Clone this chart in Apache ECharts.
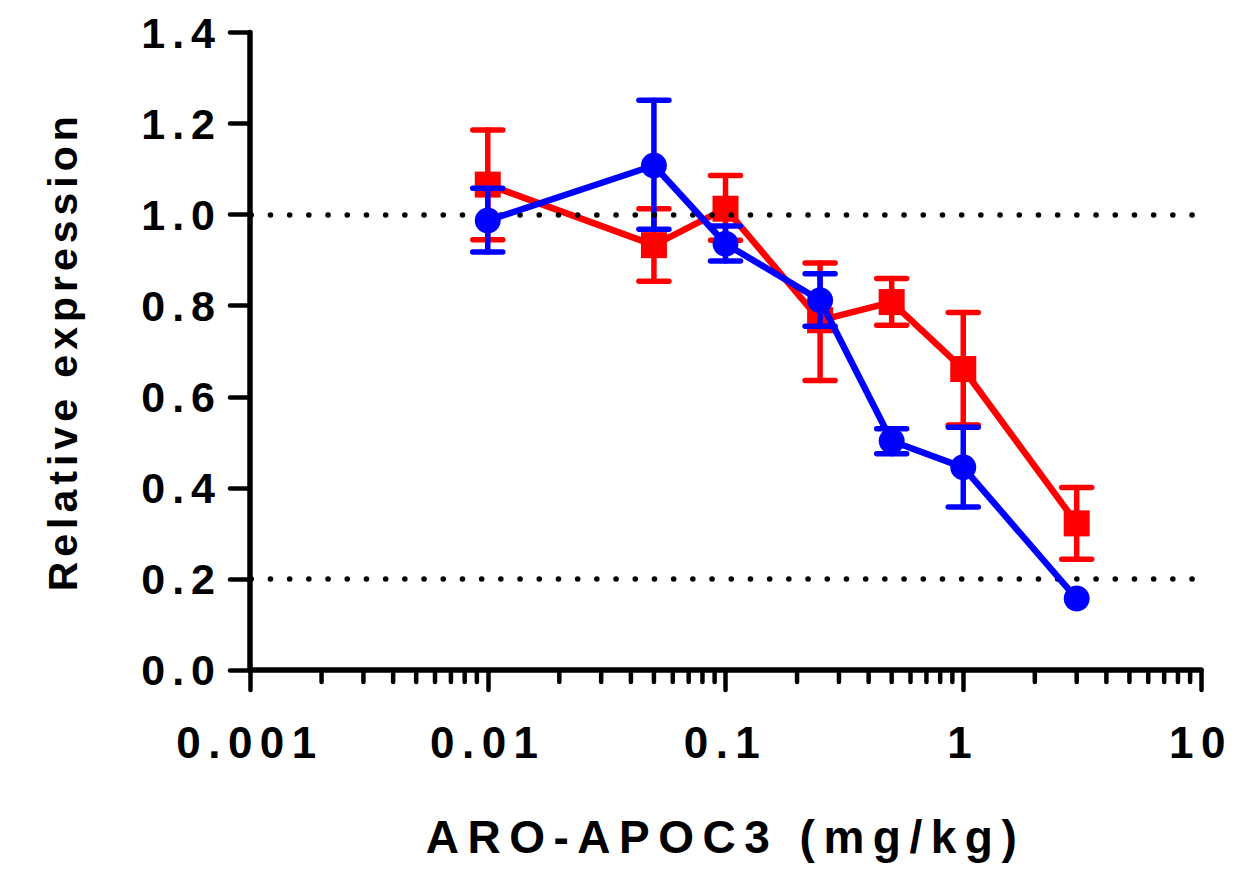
<!DOCTYPE html>
<html>
<head>
<meta charset="utf-8">
<script src="https://cdn.jsdelivr.net/npm/echarts@6/dist/echarts.min.js"></script>
<style>
  html, body { margin: 0; padding: 0; background: #fff; }
  #chart { width: 1239px; height: 869px; }
  /* wide tracking, as in the figure typography */
  #chart text { letter-spacing: 7px; }
  #chart text[style*="46px"] { letter-spacing: 8.5px; }
  #chart text[style*="41px"] { letter-spacing: 5px; }
  #chart text[style*="44px"] { letter-spacing: 7.5px; }
</style>
</head>
<body>
<div id="chart"></div>
<script>
// Dose levels (mg/kg)
const doses = [0.01, 0.05, 0.1, 0.25, 0.5, 1, 3];

// Red group: mean, lower and upper error limits
const redMean = [1.066, 0.933, 1.013, 0.768, 0.808, 0.661, 0.322];
const redLow  = [0.945, 0.854, 0.944, 0.636, 0.757, 0.538, 0.243];
const redHigh = [1.186, 1.013, 1.086, 0.894, 0.860, 0.785, 0.401];

// Blue group: mean, lower and upper error limits
const blueMean = [0.987, 1.108, 0.936, 0.812, 0.503, 0.445, 0.157];
const blueLow  = [0.918, 0.968, 0.898, 0.755, 0.475, 0.358, null];
const blueHigh = [1.058, 1.251, 0.975, 0.870, 0.530, 0.533, null];

// Reference levels drawn as dotted lines
const refLevels = [1.0, 0.2];

// Axis labels
const xTickLabels = ['0.001', '0.01', '0.1', '1', '10'];
const minorTickValues = [
  0.002, 0.003, 0.004, 0.005, 0.006, 0.007, 0.008, 0.009,
  0.02, 0.03, 0.04, 0.05, 0.06, 0.07, 0.08, 0.09,
  0.2, 0.3, 0.4, 0.5, 0.6, 0.7, 0.8, 0.9,
  2, 3, 4, 5, 6, 7, 8, 9
];

const FONT = '"Liberation Sans", Arial, Helvetica, sans-serif';

function pairs(ys) { return doses.map((d, i) => [d, ys[i]]); }
function bars(lo, hi) {
  return doses.map((d, i) => [d, lo[i], hi[i]]).filter(r => r[1] != null);
}

function errorBarItem(color) {
  return function (params, api) {
    const x = api.value(0);
    const lo = api.coord([x, api.value(1)]);
    const hi = api.coord([x, api.value(2)]);
    const half = 15;
    const style = { stroke: color, lineWidth: 5.5, lineCap: 'round' };
    return {
      type: 'group',
      children: [
        { type: 'line', shape: { x1: lo[0], y1: lo[1], x2: hi[0], y2: hi[1] }, style },
        { type: 'line', shape: { x1: hi[0] - half, y1: hi[1], x2: hi[0] + half, y2: hi[1] }, style },
        { type: 'line', shape: { x1: lo[0] - half, y1: lo[1], x2: lo[0] + half, y2: lo[1] }, style }
      ]
    };
  };
}

const chart = echarts.init(document.getElementById('chart'), null, { renderer: 'svg' });

chart.setOption({
  animation: false,
  backgroundColor: '#ffffff',
  grid: { left: 250, top: 32.5, width: 951, height: 637.5, containLabel: false },
  xAxis: {
    type: 'log',
    logBase: 10,
    min: 0.001,
    max: 10,
    name: 'ARO-APOC3 (mg/kg)',
    nameLocation: 'middle',
    nameGap: 144,
    nameTextStyle: { fontFamily: FONT, fontWeight: 'bold', fontSize: 46, color: '#000' },
    axisLine: { lineStyle: { color: '#000', width: 5.5, cap: 'round' } },
    axisTick: { show: true, length: 20, lineStyle: { color: '#000', width: 4.5, cap: 'round' } },
    axisLabel: {
      fontFamily: FONT, fontWeight: 'bold', fontSize: 44, color: '#000', margin: 50,
      formatter: v => xTickLabels[Math.round(Math.log10(v)) + 3]
    },
    splitLine: { show: false },
    minorTick: { show: false }
  },
  yAxis: {
    type: 'value',
    min: 0,
    max: 1.4,
    interval: 0.2,
    name: 'Relative expression',
    nameLocation: 'middle',
    nameGap: 167,
    nameTextStyle: { fontFamily: FONT, fontWeight: 'bold', fontSize: 41, color: '#000' },
    axisLine: { show: true, lineStyle: { color: '#000', width: 5.5, cap: 'round' } },
    axisTick: { show: true, length: 20, lineStyle: { color: '#000', width: 4.5, cap: 'round' } },
    axisLabel: {
      fontFamily: FONT, fontWeight: 'bold', fontSize: 43, color: '#000', margin: 28,
      padding: [16, 0, 0, 0],
      formatter: v => v.toFixed(1)
    },
    splitLine: { show: false }
  },
  series: [
    {
      // dotted reference levels
      type: 'line',
      data: [],
      z: 1,
      silent: true,
      markLine: {
        silent: true,
        symbol: 'none',
        label: { show: false },
        emphasis: { disabled: true },
        lineStyle: { color: '#000', width: 5.5, type: [0.1, 19.1], dashOffset: 18.4, cap: 'round' },
        data: refLevels.map(v => ({ yAxis: v }))
      }
    },
    {
      // minor log ticks along the x axis
      type: 'custom',
      silent: true,
      clip: false,
      z: 1,
      data: minorTickValues.map(v => [v, 0]),
      encode: { x: 0, y: 1 },
      renderItem: function (params, api) {
        const p = api.coord([api.value(0), 0]);
        return {
          type: 'line',
          shape: { x1: p[0], y1: p[1], x2: p[0], y2: p[1] + 12 },
          style: { stroke: '#000', lineWidth: 4.5, lineCap: 'round' }
        };
      }
    },
    {
      type: 'custom',
      name: 'red-err',
      z: 2,
      clip: false,
      silent: true,
      data: bars(redLow, redHigh),
      encode: { x: 0, y: [1, 2] },
      renderItem: errorBarItem('#ff0000')
    },
    {
      type: 'line',
      name: 'red',
      z: 3,
      data: pairs(redMean),
      symbol: 'rect',
      symbolSize: 26,
      showAllSymbol: true,
      lineStyle: { color: '#ff0000', width: 6.5 },
      itemStyle: { color: '#ff0000' },
      emphasis: { disabled: true }
    },
    {
      type: 'custom',
      name: 'blue-err',
      z: 4,
      clip: false,
      silent: true,
      data: bars(blueLow, blueHigh),
      encode: { x: 0, y: [1, 2] },
      renderItem: errorBarItem('#0000ff')
    },
    {
      type: 'line',
      name: 'blue',
      z: 5,
      data: pairs(blueMean),
      symbol: 'circle',
      symbolSize: 26,
      showAllSymbol: true,
      lineStyle: { color: '#0000ff', width: 6.5 },
      itemStyle: { color: '#0000ff' },
      emphasis: { disabled: true }
    }
  ]
});
</script>
</body>
</html>
